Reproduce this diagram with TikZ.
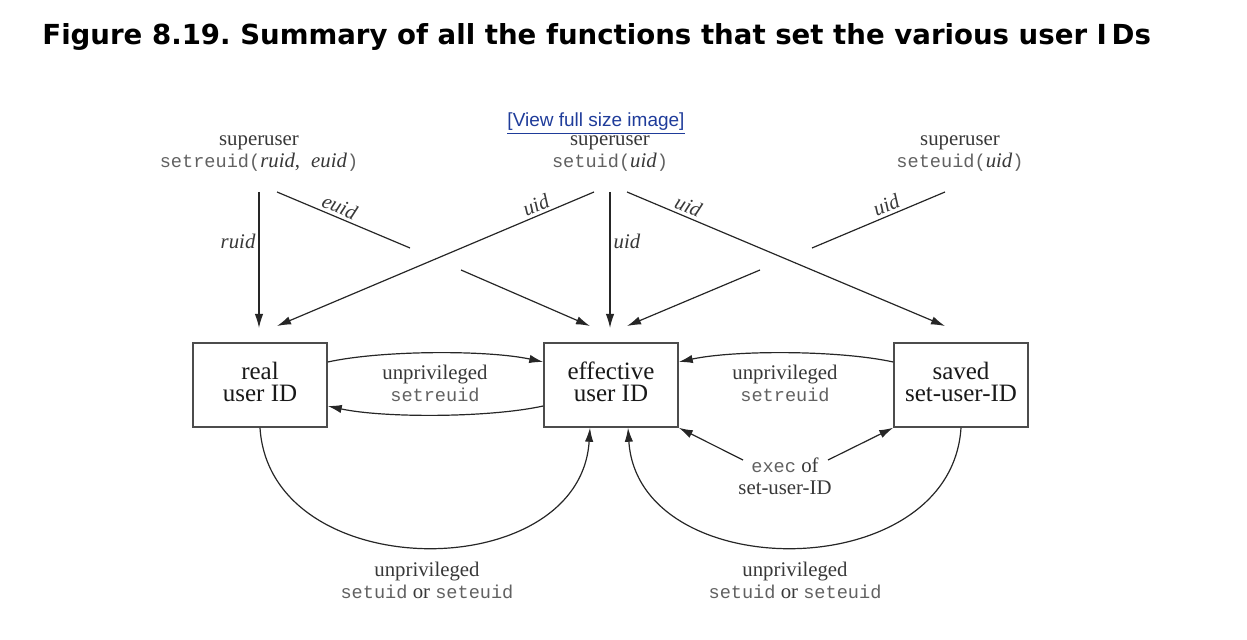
\documentclass[tikz,border=0pt]{standalone}
\usepackage{fontspec}
\setmainfont{Liberation Serif}
\setmonofont{Liberation Mono}
\newfontfamily\titlefont{DejaVu Sans}
\newfontfamily\linkfont{Liberation Sans}
\usetikzlibrary{arrows.meta,calc}
\definecolor{linkblue}{HTML}{1F3C9A}
\newcommand\cmono[1]{{\ttfamily\fontsize{9.3}{11}\selectfont\color{black!62}#1}}
\begin{document}
\begin{tikzpicture}[x=0.5pt,y=-0.5pt,
  ln/.style={draw=black!85, line width=0.6pt},
  arr/.style={ln, -{Latex[length=7pt,width=4.2pt]}},
  lbl/.style={font=\fontsize{10.4}{11}\selectfont, text=black!78, align=center, inner sep=0pt},
  itl/.style={font=\itshape\fontsize{10.4}{11}\selectfont, text=black!78, inner sep=1.5pt},
  idbox/.style={draw=black!70, line width=0.75pt, minimum width=67pt, minimum height=42pt, inner sep=0pt},
  boxtxt/.style={align=center, font=\fontsize{12.5}{11}\selectfont, text=black!90, inner sep=0pt}]
\useasboundingbox (0,0) rectangle (1247,640);

% title and link
\node[anchor=base west, inner sep=0pt, font=\titlefont\bfseries\fontsize{13.8}{16}\selectfont] (title) at (42,45)
  {\frenchspacing Figure 8.19. Summary of all the functions that set the various user I\,Ds};
\node[anchor=base, inner sep=0pt, font=\linkfont\fontsize{9.5}{11}\selectfont, text=linkblue] (link) at (596,127)
  {\underline{[View full size image]}};

% top labels
\node[lbl] (su1) at (259,154) {superuser\\\cmono{setreuid(}\textit{ruid},\hspace{5.5pt}\textit{euid}\cmono{)}};
\node[lbl] (su2) at (610,154) {superuser\\\cmono{setuid(}\textit{uid}\cmono{)}};
\node[lbl] (su3) at (960,154) {superuser\\\cmono{seteuid(}\textit{uid}\cmono{)}};

% boxes
\node[idbox] (real) at (260,385) {};
\node[idbox] (eff) at (611,385) {};
\node[idbox] (saved) at (961,385) {};
\node[boxtxt] (realt) at (260,382) {real\\user ID};
\node[boxtxt] (efft) at (611,382) {effective\\user ID};
\node[boxtxt] (savedt) at (961,382) {saved\\set-user-ID};

% coordinates for the top connectors
\coordinate (ruidS) at (259,192); \coordinate (ruidE) at (259,328);
\coordinate (euA) at (277,192); \coordinate (euB) at (410,248);
\coordinate (euC) at (461,270); \coordinate (euD) at (590,326);
\coordinate (uaS) at (594,192); \coordinate (uaE) at (277,326);
\coordinate (ubS) at (610,192); \coordinate (ubE) at (610,328);
\coordinate (ucS) at (627,192); \coordinate (ucE) at (945,326);
\coordinate (udA) at (945,192); \coordinate (udB) at (812,248);
\coordinate (udC) at (760,270); \coordinate (udD) at (627,326);

\draw[arr] (ruidS) -- node[pos=0.36, left, itl] {ruid} (ruidE);
\draw[ln] (euA) -- node[pos=0.44, sloped, above, itl] {euid} (euB);
\draw[arr] (euC) -- (euD);
\draw[arr] (uaS) -- node[pos=0.17, sloped, above, itl] {uid} (uaE);
\draw[arr] (ubS) -- node[pos=0.36, right, itl] {uid} (ubE);
\draw[arr] (ucS) -- node[pos=0.18, sloped, above, itl] {uid} (ucE);
\draw[ln] (udA) -- node[pos=0.41, sloped, above, itl] {uid} (udB);
\draw[arr] (udC) -- (udD);

% middle curves
\draw[arr] ([yshift=11.5pt]real.east) .. controls +(55,-12) and +(-55,-12) .. ([yshift=11.5pt]eff.west);
\draw[arr] ([yshift=-10.5pt]eff.west) .. controls +(-55,12) and +(55,12) .. ([yshift=-10.5pt]real.east);
\draw[arr] ([yshift=11.5pt]saved.west) .. controls +(-55,-12) and +(55,-12) .. ([yshift=11.5pt]eff.east);
\node[lbl] (m1) at (435,383) {unprivileged\\\cmono{setreuid}};
\node[lbl] (m2) at (785,383) {unprivileged\\\cmono{setreuid}};

% exec of set-user-ID
\node[lbl] (ex) at (785,476) {\cmono{exec} of\\set-user-ID};
\coordinate (exL) at (743,460); \coordinate (exR) at (828,460);
\draw[arr] (exL) -- (eff.south east);
\draw[arr] (exR) -- (saved.south west);

% bottom arcs
\draw[arr] (real.south) .. controls +(10,159) and +(-10,159) .. ([xshift=-10.5pt]eff.south);
\draw[arr] (saved.south) .. controls +(-10,159) and +(10,159) .. ([xshift=8.5pt]eff.south);
\node[lbl] (b1) at (427,580) {unprivileged\\\cmono{setuid} or \cmono{seteuid}};
\node[lbl] (b2) at (795,580) {unprivileged\\\cmono{setuid} or \cmono{seteuid}};
\end{tikzpicture}
\end{document}
